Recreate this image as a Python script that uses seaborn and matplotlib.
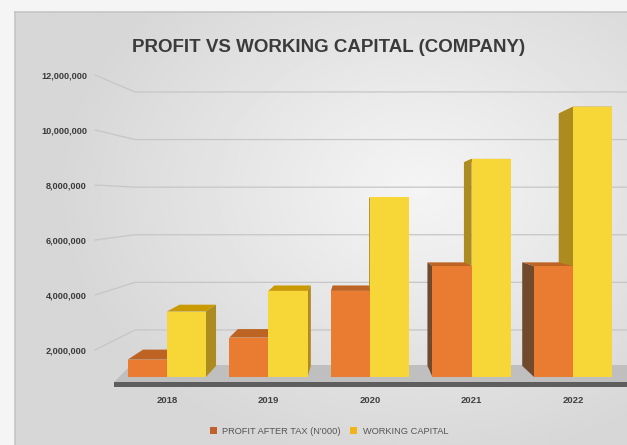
import numpy as np
import pandas as pd
import matplotlib
matplotlib.use("Agg")
import matplotlib.pyplot as plt
from matplotlib.patches import Polygon, Patch
from matplotlib.lines import Line2D
from matplotlib.transforms import IdentityTransform
import seaborn as sns

# data
years = ["2018", "2019", "2020", "2021", "2022"]
profit = [1650000, 2450000, 4150000, 5050000, 5050000]
working_capital = [3400000, 4150000, 7550000, 8950000, 10850000]
series = ["PROFIT AFTER TAX (N'000)", "WORKING CAPITAL"]
yticks = [2000000, 4000000, 6000000, 8000000, 10000000, 12000000]

df = pd.DataFrame({
    "year": years * 2,
    "value": profit + working_capital,
    "series": [series[0]] * len(years) + [series[1]] * len(years),
})

front_c = ["#e97c30", "#f7d638"]
top_c = ["#bd6424", "#c99a02"]
side_c = ["#714a2d", "#ae8b1e"]
legend_c = ["#c0602a", "#f0b418"]

sns.set_theme(style="white")
plt.rcParams["font.family"] = ["Liberation Sans", "DejaVu Sans"]

W, H = 627, 445
fig = plt.figure(figsize=(W / 100, H / 100), dpi=100, facecolor="#f5f5f5")

# ── background panel with a soft radial gradient ─────────────────────────────
bg = fig.add_axes([15 / W, 0, 1 - 15 / W, 1 - 12 / H], zorder=0)
gx, gy = np.meshgrid(np.linspace(15, W, 300), np.linspace(12, H, 220))
r = np.sqrt(((gx - 420) / 430) ** 2 + ((gy - 190) / 330) ** 2)
shade = np.clip(0.96 - 0.14 * r, 0.84, 0.96)
bg.imshow(shade, cmap="gray", vmin=0, vmax=1, extent=[0, 1, 0, 1],
          aspect="auto", origin="upper")
bg.set_xticks([])
bg.set_yticks([])
for s in ["right", "bottom"]:
    bg.spines[s].set_visible(False)
for s in ["left", "top"]:
    bg.spines[s].set_color("#c4c4c4")
    bg.spines[s].set_linewidth(1.2)

# ── main axes ────────────────────────────────────────────────────────────────
ax_left, ax_right, ax_top, ax_bot = 116, 624, 61, 377
ax = fig.add_axes([ax_left / W, 1 - ax_bot / H,
                   (ax_right - ax_left) / W, (ax_bot - ax_top) / H], zorder=1)
ax.patch.set_alpha(0)

sns.barplot(data=df, x="year", y="value", hue="series", palette=front_c,
            width=0.77, saturation=1, legend=False, linewidth=0, zorder=3, ax=ax)

per_px = 10000000 / 275
ax.set_ylim(2000000 - (ax_bot - 350) * per_px, 12000000 + (75 - ax_top) * per_px)
ax.set_xlim(-0.5, len(years) - 0.5)
ax.set_xlabel("")
ax.set_ylabel("")
ax.grid(False)
sns.despine(ax=ax, left=True, bottom=True)
ax.set_yticks(yticks)
ax.set_yticklabels([f"{t:,}" for t in yticks], fontsize=6.6, fontweight="bold",
                   color="#3a3a3a")
ax.tick_params(axis="y", length=0, pad=20.9)
ax.tick_params(axis="x", length=0, pad=13.6, labelsize=6.8, labelcolor="#404040")
for lbl in ax.get_xticklabels():
    lbl.set_fontweight("bold")

ident = IdentityTransform()


def px(x, y):
    # pixel (from top-left) -> display coords
    return (x, H - y)


# floor slab
ax.add_patch(Polygon([px(114, 382), px(131, 365), px(627, 365), px(627, 382)],
                     closed=True, transform=ident, facecolor="#bfbfbf",
                     edgecolor="none", zorder=1, clip_on=False))
ax.add_patch(Polygon([px(114, 382), px(627, 382), px(627, 387), px(114, 387)],
                     closed=True, transform=ident, facecolor="#5e5e5e",
                     edgecolor="none", zorder=1.2, clip_on=False))

# wall gridlines with slanted connectors to the labels
for t in yticks:
    yf = H - ax.transData.transform((0, t))[1]
    yb = 201 + 0.8655 * (yf - 201)
    ax.add_line(Line2D([95, 135, 627], [H - yf, H - yb, H - yb], transform=ident,
                       color="#c6c6c6", linewidth=0.9, zorder=0.5, clip_on=False))

# fake 3D depth faces for every bar
VX, VY = 357, H - 210
K = 0.067


def back(p):
    return (p[0] + K * (VX - p[0]), p[1] + K * (VY - p[1]))


ylo = ax.get_ylim()[0]
for i, cont in enumerate(ax.containers):
    z = 2 + 0.5 * (1 - i)
    for bar in cont:
        x0, x1 = bar.get_x(), bar.get_x() + bar.get_width()
        y0, y1 = max(bar.get_y(), ylo), bar.get_y() + bar.get_height()
        (dx0, dy0), (dx1, dy1) = ax.transData.transform([(x0, y0), (x1, y1)])
        lb, lt, rb, rt = (dx0, dy0), (dx0, dy1), (dx1, dy0), (dx1, dy1)
        ax.add_patch(Polygon([lt, rt, back(rt), back(lt)], closed=True,
                             transform=ident, facecolor=top_c[i],
                             edgecolor="none", zorder=z))
        side = None
        if dx1 < VX:
            side = [rb, rt, back(rt), back(rb)]
        elif dx0 > VX:
            side = [lb, lt, back(lt), back(lb)]
        if side:
            ax.add_patch(Polygon(side, closed=True, transform=ident,
                                 facecolor=side_c[i], edgecolor="none", zorder=z))

# title and legend
fig.text(329 / W, 1 - 47 / H, "PROFIT VS WORKING CAPITAL (COMPANY)", ha="center",
         va="center", fontsize=13.5, fontweight="bold", color="#3b3b3b")

handles = [Patch(facecolor=c, edgecolor="none") for c in legend_c]
fig.legend(handles, series, loc="center", bbox_to_anchor=(329 / W, 1 - 431 / H),
           ncol=2, frameon=False, fontsize=6.7, handlelength=0.75, handleheight=0.75,
           handletextpad=0.6, columnspacing=1.0, labelcolor="#555555")

fig.savefig("out.png", dpi=100, facecolor=fig.get_facecolor())
